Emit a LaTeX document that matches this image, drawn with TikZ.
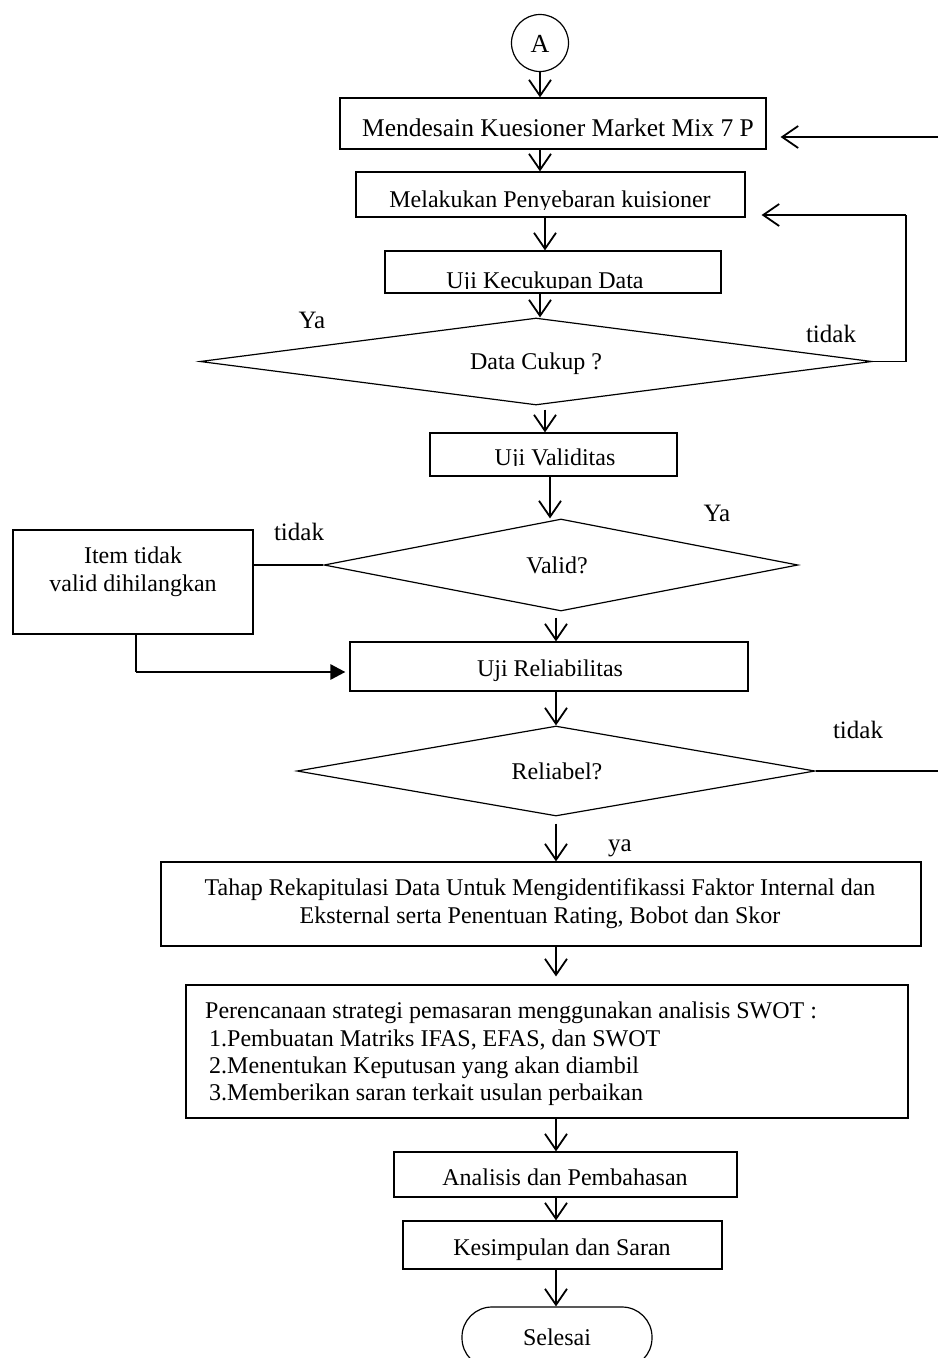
\documentclass[tikz,border=0pt]{standalone}
\usepackage{fontspec}
\setmainfont{Liberation Serif}
\usetikzlibrary{arrows.meta,shapes.geometric,calc}
\begin{document}
\begin{tikzpicture}[x=1pt,y=-1pt,
  box/.style={draw,line width=1.2pt,inner sep=0pt,rectangle},
  dia/.style={draw,line width=1.2pt,inner sep=0pt,shape=diamond},
  txt/.style={inner sep=0pt,anchor=base,font=\fontsize{24}{28}\selectfont},
  txtw/.style={inner sep=0pt,anchor=base west,font=\fontsize{24}{28}\selectfont},
  lbl/.style={inner sep=0pt,anchor=base,font=\fontsize{25}{29}\selectfont},
  arr/.style={line width=1.5pt,-{Straight Barb[length=16pt,width=22pt,line width=1.8pt]}},
  ln/.style={line width=1.4pt},
  thickarr/.style={line width=2.8pt,-{Triangle[length=15pt,width=15pt]}}
]
\useasboundingbox (0,0) rectangle (938,1358);

% lanes for vertical connectors
\coordinate (x540) at (540,0);
\coordinate (x545) at (545,0);
\coordinate (x550) at (550,0);
\coordinate (x556) at (556,0);

% shapes
\node[draw,circle,line width=1.2pt,minimum size=57pt,inner sep=0pt] (A) at (540,43) {};
\node[txt,font=\fontsize{26}{30}\selectfont] (tA) at (540,52) {A};

\node[box,minimum width=426pt,minimum height=51pt] (b1) at (553,123.5) {};
\node[txt,font=\fontsize{25.5}{30}\selectfont] (t1) at (558,136) {Mendesain Kuesioner Market Mix 7 P};

\node[box,minimum width=389pt,minimum height=45pt] (b2) at (550.5,194.5) {};
\coordinate (c2) at (745,209);
\begin{scope}
\clip (b2.north west) rectangle (c2);
\node[txt] (t2) at (550,207) {Melakukan Penyebaran kuisioner};
\end{scope}

\node[box,minimum width=336pt,minimum height=42pt] (b3) at (553,272) {};
\coordinate (c3) at (721,288.5);
\begin{scope}
\clip (b3.north west) rectangle (c3);
\node[txt] (t3) at (545,288) {Uji Kecukupan Data};
\end{scope}

\node[dia,minimum width=672pt,minimum height=87pt] (d1) at (536,361.5) {};
\node[txt] (td1) at (536,369) {Data Cukup ?};
\node[lbl] (ya1) at (312,328) {Ya};
\node[lbl] (no1) at (831,342) {tidak};

\node[box,minimum width=247pt,minimum height=43pt] (b4) at (553.5,454.5) {};
\coordinate (c4) at (677,465.5);
\begin{scope}
\clip (b4.north west) rectangle (c4);
\node[txt] (t4) at (555,465) {Uji Validitas};
\end{scope}

\node[dia,minimum width=474pt,minimum height=92pt] (d2) at (561,565) {};
\node[txt] (td2) at (557,573) {Valid?};
\node[lbl] (ya2) at (717,521) {Ya};
\node[lbl] (no2) at (299,540) {tidak};

\node[box,minimum width=240pt,minimum height=104pt] (item) at (133,582) {};
\node[txt] (ti1) at (133,563) {Item tidak};
\node[txt] (ti2) at (133,591) {valid dihilangkan};

\node[box,minimum width=398pt,minimum height=49pt] (b6) at (549,666.5) {};
\node[txt] (t6) at (550,676) {Uji Reliabilitas};

\node[dia,minimum width=518pt,minimum height=90pt] (d3) at (556,771) {};
\node[txt] (td3) at (557,779) {Reliabel?};
\node[lbl] (no3) at (858,738) {tidak};
\node[lbl] (ya3) at (620,851) {ya};

\node[box,minimum width=760pt,minimum height=84pt] (b7) at (541,904) {};
\node[txt] (t7a) at (540,895) {Tahap Rekapitulasi Data Untuk Mengidentifikassi Faktor Internal dan};
\node[txt] (t7b) at (540,923) {Eksternal serta Penentuan Rating, Bobot dan Skor};

\node[box,minimum width=722pt,minimum height=133pt] (b8) at (547,1051.5) {};
\node[txtw] (t8a) at (205,1018) {Perencanaan strategi pemasaran menggunakan analisis SWOT :};
\node[txtw] (t8b) at (209,1046) {1.Pembuatan Matriks IFAS, EFAS, dan SWOT};
\node[txtw] (t8c) at (209,1073) {2.Menentukan Keputusan yang akan diambil};
\node[txtw] (t8d) at (209,1100) {3.Memberikan saran terkait usulan perbaikan};

\node[box,minimum width=343pt,minimum height=45pt] (b9) at (565.5,1174.5) {};
\node[txt] (t9) at (565,1185) {Analisis dan Pembahasan};

\node[box,minimum width=319pt,minimum height=48pt] (b10) at (562.5,1245) {};
\node[txt] (t10) at (562,1255) {Kesimpulan dan Saran};

\node[box,rounded corners=30pt,minimum width=190pt,minimum height=61pt] (T) at (557,1337.5) {};
\node[txt] (tT) at (557,1345) {Selesai};

% vertical connectors
\draw[arr] (A.south) -- (A.south |- b1.north);
\draw[arr] (b1.south -| x540) -- (b2.north -| x540);
\draw[arr] (b2.south -| x545) -- (b3.north -| x545);
\draw[arr] (b3.south -| x540) -- (d1.north -| x540);
\draw[arr] ($(d1.south -| x545)+(0,4)$) -- (b4.north -| x545);
\draw[arr] (b4.south -| x550) -- (d2.north -| x550);
\draw[arr] ($(d2.south -| x556)+(0,6)$) -- (b6.north -| x556);
\draw[arr] (b6.south -| x556) -- (d3.north -| x556);
\draw[arr] ($(d3.south -| x556)+(0,7)$) -- (b7.north -| x556);
\draw[arr] (b7.south -| x556) -- ($(b8.north -| x556)+(0,-8)$);
\draw[arr] (b8.south -| x556) -- (b9.north -| x556);
\draw[arr] (b9.south -| x556) -- (b10.north -| x556);
\draw[arr] (b10.south -| x556) -- (T.north -| x556);

% feedback and side connectors
\coordinate (e1) at (938,137);
\draw[arr] (e1) -- ($(b1.east |- e1)+(14,0)$);
\coordinate (lp) at (906,215);
\draw[ln] (d1.east) -| (lp);
\draw[arr] (lp) -- ($(b2.east |- lp)+(16,0)$);
\draw[ln] (item.east |- d2.west) -- (d2.west);
\coordinate (ib) at (136,672);
\draw[ln] (item.south -| ib) -- (ib);
\draw[thickarr] (ib) -- ($(b6.west |- ib)+(-4,0)$);
\coordinate (e3) at (938,771);
\draw[ln] (d3.east) -- (e3);
\end{tikzpicture}
\end{document}
